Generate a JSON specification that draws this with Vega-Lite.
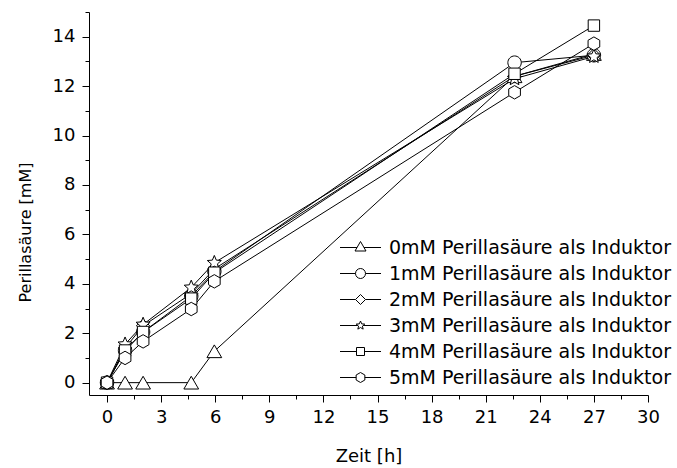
{
  "$schema": "https://vega.github.io/schema/vega-lite/v6.json",
  "autosize": {"type": "none"},
  "width": 559,
  "height": 383,
  "padding": {"left": 89, "top": 12, "right": 29, "bottom": 73},
  "background": "white",
  "config": {
    "view": {"stroke": null},
    "font": "DejaVu Sans",
    "axis": {"grid": false, "domainColor": "black", "tickColor": "black", "labelColor": "black", "titleColor": "black", "domainWidth": 1, "tickWidth": 1, "labelFont": "DejaVu Sans", "titleFont": "DejaVu Sans", "labelFontSize": 18, "titleFontSize": 18, "titleFontWeight": "normal"},
    "legend": {"labelFont": "DejaVu Sans", "labelFontSize": 19, "labelColor": "black"}
  },
  "data": {"values": [
    {"s": "0mM Perillasäure als Induktor", "t": 0, "c": 0},
    {"s": "0mM Perillasäure als Induktor", "t": 1, "c": 0},
    {"s": "0mM Perillasäure als Induktor", "t": 2, "c": 0},
    {"s": "0mM Perillasäure als Induktor", "t": 4.67, "c": 0},
    {"s": "0mM Perillasäure als Induktor", "t": 5.95, "c": 1.27},
    {"s": "0mM Perillasäure als Induktor", "t": 22.6, "c": 12.4},
    {"s": "0mM Perillasäure als Induktor", "t": 27, "c": 13.3},
    {"s": "1mM Perillasäure als Induktor", "t": 0, "c": 0},
    {"s": "1mM Perillasäure als Induktor", "t": 1, "c": 1.3},
    {"s": "1mM Perillasäure als Induktor", "t": 2, "c": 2.05},
    {"s": "1mM Perillasäure als Induktor", "t": 4.67, "c": 3.5},
    {"s": "1mM Perillasäure als Induktor", "t": 5.95, "c": 4.5},
    {"s": "1mM Perillasäure als Induktor", "t": 22.6, "c": 12.95},
    {"s": "1mM Perillasäure als Induktor", "t": 27, "c": 13.25},
    {"s": "2mM Perillasäure als Induktor", "t": 0, "c": 0},
    {"s": "2mM Perillasäure als Induktor", "t": 1, "c": 1.4},
    {"s": "2mM Perillasäure als Induktor", "t": 2, "c": 2.3},
    {"s": "2mM Perillasäure als Induktor", "t": 4.67, "c": 3.6},
    {"s": "2mM Perillasäure als Induktor", "t": 5.95, "c": 4.6},
    {"s": "2mM Perillasäure als Induktor", "t": 22.6, "c": 12.4},
    {"s": "2mM Perillasäure als Induktor", "t": 27, "c": 13.25},
    {"s": "3mM Perillasäure als Induktor", "t": 0, "c": 0},
    {"s": "3mM Perillasäure als Induktor", "t": 1, "c": 1.55},
    {"s": "3mM Perillasäure als Induktor", "t": 2, "c": 2.35},
    {"s": "3mM Perillasäure als Induktor", "t": 4.67, "c": 3.85},
    {"s": "3mM Perillasäure als Induktor", "t": 5.95, "c": 4.85},
    {"s": "3mM Perillasäure als Induktor", "t": 22.6, "c": 12.3},
    {"s": "3mM Perillasäure als Induktor", "t": 27, "c": 13.2},
    {"s": "4mM Perillasäure als Induktor", "t": 0, "c": 0},
    {"s": "4mM Perillasäure als Induktor", "t": 1, "c": 1.3},
    {"s": "4mM Perillasäure als Induktor", "t": 2, "c": 2.05},
    {"s": "4mM Perillasäure als Induktor", "t": 4.67, "c": 3.4},
    {"s": "4mM Perillasäure als Induktor", "t": 5.95, "c": 4.45},
    {"s": "4mM Perillasäure als Induktor", "t": 22.6, "c": 12.5},
    {"s": "4mM Perillasäure als Induktor", "t": 27, "c": 14.45},
    {"s": "5mM Perillasäure als Induktor", "t": 0, "c": 0},
    {"s": "5mM Perillasäure als Induktor", "t": 1, "c": 1.0},
    {"s": "5mM Perillasäure als Induktor", "t": 2, "c": 1.67},
    {"s": "5mM Perillasäure als Induktor", "t": 4.67, "c": 2.98},
    {"s": "5mM Perillasäure als Induktor", "t": 5.95, "c": 4.1},
    {"s": "5mM Perillasäure als Induktor", "t": 22.6, "c": 11.75},
    {"s": "5mM Perillasäure als Induktor", "t": 27, "c": 13.72}
  ]},
  "encoding": {
    "x": {"field": "t", "type": "quantitative", "title": "Zeit [h]",
      "scale": {"domain": [-1, 30], "nice": false, "zero": false},
      "axis": {"values": [0,1.5,3,4.5,6,7.5,9,10.5,12,13.5,15,16.5,18,19.5,21,22.5,24,25.5,27,28.5,30],
        "labelExpr": "datum.value % 3 === 0 ? datum.label : ''",
        "tickSize": {"condition": {"test": "datum.value % 3 === 0", "value": 7}, "value": 4},
        "labelPadding": 6, "titlePadding": 21, "labelFlush": false, "labelOverlap": false}},
    "y": {"field": "c", "type": "quantitative", "title": "Perillasäure [mM]",
      "scale": {"domain": [-0.5, 15], "nice": false, "zero": false},
      "axis": {"values": [0,1,2,3,4,5,6,7,8,9,10,11,12,13,14,15],
        "labelExpr": "datum.value % 2 === 0 ? datum.label : ''",
        "tickSize": {"condition": {"test": "datum.value % 2 === 0", "value": 7}, "value": 4},
        "labelPadding": 7, "titleFontSize": 16, "titleX": -56, "titleY": 220, "labelFlush": false, "labelOverlap": false}}
  },
  "layer": [
    {"mark": {"type": "line", "color": "black", "strokeWidth": 1},
     "encoding": {"detail": {"field": "s"}}},
    {"mark": {"type": "point", "filled": true, "fill": "white", "stroke": "black", "strokeWidth": 1, "size": 180, "opacity": 1},
     "encoding": {"shape": {"field": "s", "type": "nominal", "legend": null,
       "scale": {"domain": ["0mM Perillasäure als Induktor","1mM Perillasäure als Induktor","2mM Perillasäure als Induktor","3mM Perillasäure als Induktor","4mM Perillasäure als Induktor","5mM Perillasäure als Induktor"],
         "range": [
           "M0,-0.95L1.1,0.95L-1.1,0.95Z",
           "M1,0A1,1,0,1,1,-1,0A1,1,0,1,1,1,0Z",
           "M0,-1L1,0L0,1L-1,0Z",
           "M0,-1.1L0.291,-0.4L1.046,-0.34L0.471,0.153L0.647,0.89L0,0.495L-0.647,0.89L-0.471,0.153L-1.046,-0.34L-0.291,-0.4Z",
           "M-0.85,-0.85L0.85,-0.85L0.85,0.85L-0.85,0.85Z",
           "M0,-1L0.87,-0.5L0.87,0.5L0,1L-0.87,0.5L-0.87,-0.5Z"
         ]}}}},
    {"transform": [{"filter": "datum.c < -100"}],
     "mark": {"type": "point", "stroke": "black", "strokeWidth": 1, "size": 169, "opacity": 1},
     "encoding": {"shape": {"field": "s", "type": "nominal",
       "legend": {"title": null, "orient": "none", "legendX": 262, "legendY": 226, "padding": 0, "labelOffset": 19, "labelLimit": 500, "rowPadding": 6, "symbolStrokeWidth": 1},
       "scale": {"domain": ["0mM Perillasäure als Induktor","1mM Perillasäure als Induktor","2mM Perillasäure als Induktor","3mM Perillasäure als Induktor","4mM Perillasäure als Induktor","5mM Perillasäure als Induktor"],
         "range": [
           "M-4.1,0L-0.7,0M0.7,0L4.1,0M0,-1.2L1.1,0.7L-1.1,0.7Z",
           "M-4.1,0L-1,0M1,0L4.1,0M1,0A1,1,0,1,1,-1,0A1,1,0,1,1,1,0Z",
           "M-4.1,0L-1,0M1,0L4.1,0M0,-1L1,0L0,1L-1,0Z",
           "M-4.1,0L-0.53,0M0.53,0L4.1,0M0,-0.9L0.239,-0.328L0.856,-0.278L0.385,0.125L0.529,0.728L0,0.405L-0.529,0.728L-0.385,0.125L-0.856,-0.278L-0.239,-0.328Z",
           "M-4.1,0L-0.8,0M0.8,0L4.1,0M-0.8,-0.8L0.8,-0.8L0.8,0.8L-0.8,0.8Z",
           "M-4.1,0L-0.87,0M0.87,0L4.1,0M0,-1L0.87,-0.5L0.87,0.5L0,1L-0.87,0.5L-0.87,-0.5Z"
         ]}}}}
  ],
  "resolve": {"scale": {"shape": "independent"}, "legend": {"shape": "independent"}}
}
